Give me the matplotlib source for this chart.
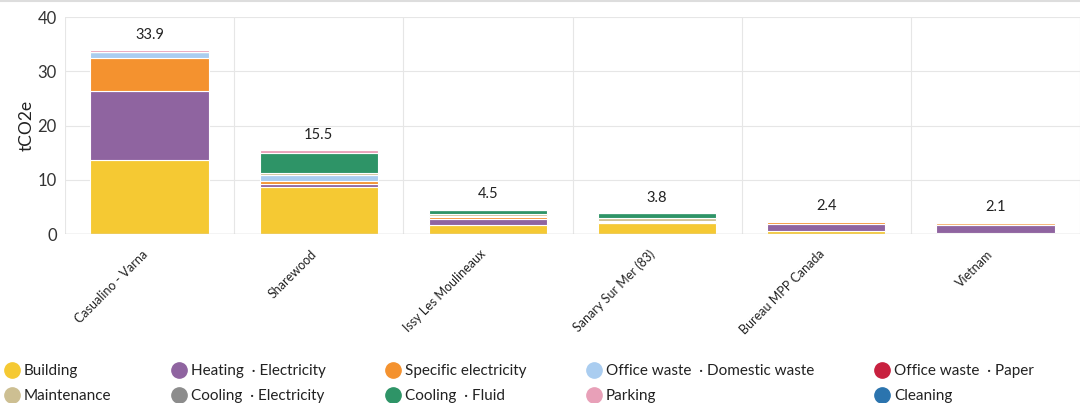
import numpy as np
import matplotlib
matplotlib.use("Agg")
from matplotlib import pyplot as plt
from matplotlib.lines import Line2D

plt.rcParams['font.family'] = ['Lato', 'DejaVu Sans']

sites = ["Casualino - Varna", "Sharewood", "Issy Les Moulineaux",
         "Sanary Sur Mer (83)", "Bureau MPP Canada", "Vietnam"]
totals = [33.9, 15.5, 4.5, 3.8, 2.4, 2.1]

series = ["Building", "Heating  · Electricity", "Specific electricity",
          "Office waste  · Domestic waste", "Office waste  · Paper",
          "Maintenance", "Cooling  · Electricity", "Cooling  · Fluid",
          "Parking", "Cleaning"]
colors = ["#F5C933", "#8F64A0", "#F4922F", "#AACDF0", "#C8203F",
          "#CDBF92", "#8C8C8C", "#2E9467", "#E8A0B8", "#2B74AE"]

building = [13.6, 8.7, 1.7, 2.0, 0.6, 0.1]
heating = [12.7, 0.6, 1.1, 0.0, 1.3, 1.5]
specific = [6.1, 0.45, 0.35, 0.3, 0.4, 0.4]
domestic_waste = [1.1, 1.1, 0.15, 0.1, 0.1, 0.1]
paper = [0.0, 0.0, 0.0, 0.0, 0.0, 0.0]
maintenance = [0.1, 0.4, 0.4, 0.5, 0.0, 0.0]
cooling_elec = [0.0, 0.0, 0.0, 0.0, 0.0, 0.0]
cooling_fluid = [0.0, 3.7, 0.8, 0.9, 0.0, 0.0]
parking = [0.3, 0.55, 0.0, 0.0, 0.0, 0.0]
cleaning = [0.0, 0.0, 0.0, 0.0, 0.0, 0.0]

data = [building, heating, specific, domestic_waste, paper,
        maintenance, cooling_elec, cooling_fluid, parking, cleaning]

fig = plt.figure(figsize=(10.8, 4.03), dpi=100)
ax = fig.add_axes([65 / 1080, 1 - 234 / 403, 1 - 65 / 1080, 217 / 403])

x = np.arange(len(sites))
bottom = np.zeros(len(sites))
for vals, col in zip(data, colors):
    vals = np.array(vals)
    ax.bar(x, vals, bottom=bottom, width=0.7, color=col,
           edgecolor="white", linewidth=0.8, zorder=3)
    bottom += vals

for xi, t in zip(x, totals):
    ax.text(xi, t + 1.5, f"{t:.1f}", ha="center", va="bottom",
            fontsize=10.5, color="#222222")

ax.set_xlim(-0.5, len(sites) - 0.5)
ax.set_ylim(0, 40)
ax.set_yticks([0, 10, 20, 30, 40])
ax.set_xticks(x - 0.05)
ax.set_xticklabels(sites, rotation=45, ha="right", va="top",
                   rotation_mode="anchor", fontsize=9, color="#222222")
ax.set_xticks(np.arange(-0.5, len(sites), 1), minor=True)
ax.tick_params(axis="x", which="both", length=0, pad=10)
ax.tick_params(axis="y", length=0, labelsize=12, labelcolor="#333333", pad=6)
ax.grid(axis="y", color="#e6e6e6", linewidth=0.8, zorder=0)
ax.grid(axis="x", which="minor", color="#e6e6e6", linewidth=0.8, zorder=0)
ax.grid(axis="x", which="major", visible=False)
for s in ax.spines.values():
    s.set_visible(False)
ax.axhline(0, color="#d0d0d0", linewidth=1, zorder=4)
ax.set_ylabel("tCO2e", fontsize=12.5, color="#222222", labelpad=2)

# legend is filled row by row in the reference
order = [0, 5, 1, 6, 2, 7, 3, 8, 4, 9]
handles = [Line2D([], [], marker="o", linestyle="", markersize=11,
                  markerfacecolor=colors[i], markeredgecolor=colors[i])
           for i in order]
labels = [series[i] for i in order]
fig.legend(handles, labels, loc="lower left", bbox_to_anchor=(-0.009, -0.035),
           ncol=5, frameon=False, fontsize=11, handletextpad=0.3,
           columnspacing=3.9, labelspacing=0.75, handlelength=1.0,
           labelcolor="#222222")

fig.add_artist(Line2D([0, 1], [0.998, 0.998], color="#dddddd", linewidth=1.5,
                      transform=fig.transFigure))

plt.savefig("out.png", facecolor="white")
